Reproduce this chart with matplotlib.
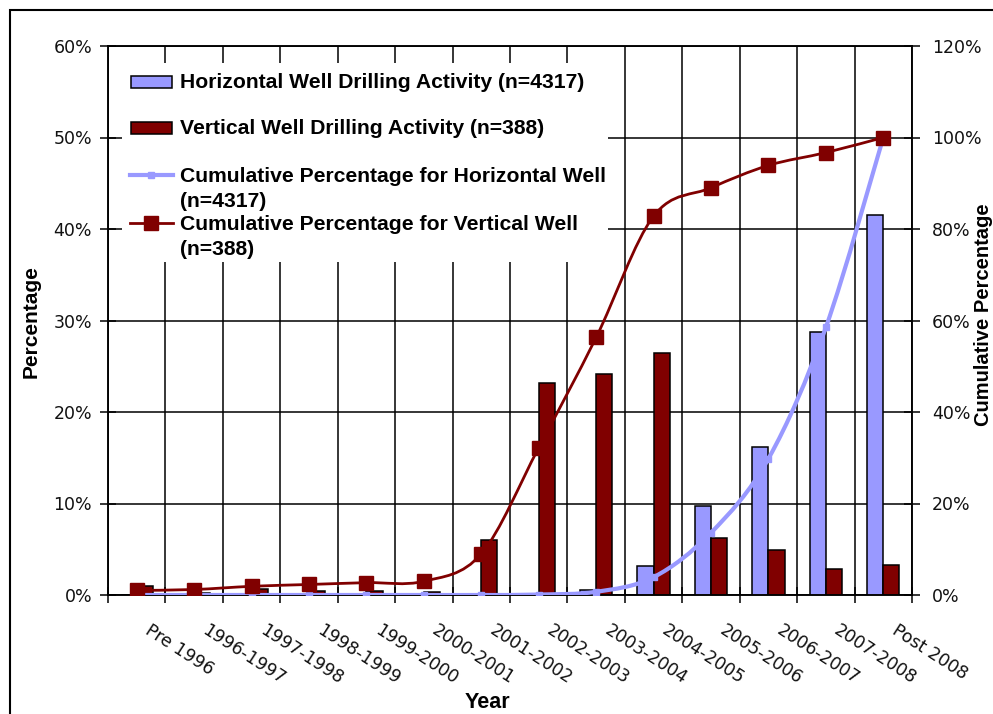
import numpy as np
import matplotlib
matplotlib.use('Agg')
import matplotlib.pyplot as plt
from matplotlib.path import Path
from matplotlib.patches import PathPatch, Rectangle
from matplotlib.lines import Line2D
from matplotlib.ticker import FuncFormatter

# drilling activity by period (percent of wells)
periods = ['Pre 1996', '1996-1997', '1997-1998', '1998-1999', '1999-2000',
           '2000-2001', '2001-2002', '2002-2003', '2003-2004', '2004-2005',
           '2005-2006', '2006-2007', '2007-2008', 'Post 2008']
horizontal_pct = [0.0, 0.0, 0.0, 0.0, 0.0, 0.0, 0.0, 0.1, 0.6, 3.2, 9.7, 16.2, 28.7, 41.5]
vertical_pct = [1.0, 0.2, 0.7, 0.4, 0.4, 0.3, 6.0, 23.2, 24.1, 26.5, 6.2, 4.9, 2.8, 3.3]
horizontal_cum = [0.0, 0.0, 0.0, 0.0, 0.0, 0.0, 0.0, 0.1, 0.7, 3.9, 13.6, 29.8, 58.5, 100.0]
vertical_cum = [1.0, 1.2, 1.9, 2.3, 2.7, 3.0, 9.0, 32.2, 56.3, 82.8, 89.0, 93.9, 96.7, 100.0]

labels = ['Horizontal Well Drilling Activity (n=4317)',
          'Vertical Well Drilling Activity (n=388)',
          'Cumulative Percentage for Horizontal Well\n(n=4317)',
          'Cumulative Percentage for Vertical Well\n(n=388)']

BLUE = '#9999FF'
RED = '#800000'


def smooth_path(xs, ys):
    # bezier curve through the points, like a smoothed excel line
    pts = np.column_stack([xs, ys]).astype(float)
    n = len(pts)
    verts = [pts[0]]
    codes = [Path.MOVETO]
    for i in range(n - 1):
        p0 = pts[max(i - 1, 0)]
        p1 = pts[i]
        p2 = pts[i + 1]
        p3 = pts[min(i + 2, n - 1)]
        verts += [p1 + (p2 - p0) / 6, p2 - (p3 - p1) / 6, p2]
        codes += [Path.CURVE4] * 3
    return Path(verts, codes)


plt.rcParams['font.family'] = 'DejaVu Sans'
fig = plt.figure(figsize=(9.93, 7.14), dpi=100)
ax = fig.add_axes([108 / 993, 1 - 595 / 714, 804 / 993, 549 / 714])
ax2 = ax.twinx()

x = np.arange(len(periods))
w = 0.28
ax.bar(x - w / 2, horizontal_pct, width=w, color=BLUE, edgecolor='black', linewidth=1.1, zorder=3)
ax.bar(x + w / 2, vertical_pct, width=w, color=RED, edgecolor='black', linewidth=1.1, zorder=3)

ax2.add_patch(PathPatch(smooth_path(x, horizontal_cum), fill=False, edgecolor=BLUE, lw=3, zorder=4))
ax2.plot(x, horizontal_cum, ls='none', marker='s', ms=5, color=BLUE, zorder=4)
ax2.add_patch(PathPatch(smooth_path(x, vertical_cum), fill=False, edgecolor=RED, lw=2, zorder=5))
ax2.plot(x, vertical_cum, ls='none', marker='s', ms=10, color=RED, zorder=5)

ax.set_xlim(-0.5, len(periods) - 0.5)
ax.set_ylim(0, 60)
ax2.set_ylim(0, 120)
ax.set_yticks(np.arange(0, 61, 10))
ax2.set_yticks(np.arange(0, 121, 20))
pct = FuncFormatter(lambda v, p: '%d%%' % v)
ax.yaxis.set_major_formatter(pct)
ax2.yaxis.set_major_formatter(pct)

# labels hang from just right of each category centre
ax.set_xticks(x + 0.26)
ax.set_xticks(np.arange(-0.5, len(periods), 1), minor=True)
ax.set_xticklabels(periods, rotation=-33, ha='left', va='top', rotation_mode='anchor')

ax.grid(which='minor', axis='x', color='black', lw=1.1, zorder=0)
ax.grid(which='major', axis='y', color='black', lw=1.1, zorder=0)
ax.set_axisbelow(True)

ax.tick_params(axis='x', which='major', length=0, pad=19, labelsize=12.5, labelcolor='#111111')
ax.tick_params(axis='x', which='minor', direction='inout', length=11, width=1.1)
ax.tick_params(axis='y', direction='inout', length=11, width=1.1, pad=6,
               labelsize=12.5, labelcolor='#111111')
ax2.tick_params(axis='y', direction='inout', length=11, width=1.1, pad=9,
                labelsize=12.5, labelcolor='#111111')
for a in (ax, ax2):
    for s in a.spines.values():
        s.set_linewidth(1.1)

# legend box drawn by hand
ax2.add_patch(Rectangle((0.0174, 0.6066), 0.605, 0.3624, transform=ax2.transAxes,
                        facecolor='white', edgecolor='none', zorder=6))
rows = [0.9344, 0.8506, 0.765, 0.6776]
bold = dict(family='Liberation Sans', fontweight='bold', fontsize=15.2, color='black')
for y, c in zip(rows[:2], [BLUE, RED]):
    ax2.add_patch(Rectangle((0.0286, y - 0.011), 0.0511, 0.022, transform=ax2.transAxes,
                            facecolor=c, edgecolor='black', lw=1.1, zorder=7))
ax2.add_line(Line2D([0.0274, 0.0808], [rows[2], rows[2]], transform=ax2.transAxes,
                    color=BLUE, lw=3, zorder=7))
ax2.add_line(Line2D([0.054], [rows[2]], transform=ax2.transAxes, ls='none',
                    marker='s', ms=5, color=BLUE, zorder=7))
ax2.add_line(Line2D([0.0274, 0.0808], [rows[3], rows[3]], transform=ax2.transAxes,
                    color=RED, lw=2, zorder=7))
ax2.add_line(Line2D([0.054], [rows[3]], transform=ax2.transAxes, ls='none',
                    marker='s', ms=10, color=RED, zorder=7))
for y, t in zip(rows, labels):
    if '\n' in t:
        ax2.text(0.0896, y + 0.015, t, transform=ax2.transAxes, va='top', ha='left',
                 linespacing=1.4, zorder=8, **bold)
    else:
        ax2.text(0.0896, y, t, transform=ax2.transAxes, va='center', ha='left', zorder=8, **bold)

fig.text(31 / 993, 1 - 322 / 714, 'Percentage', rotation=90, ha='center', va='center',
         family='Liberation Sans', fontweight='bold', fontsize=15)
fig.text(974 / 993, 1 - 315 / 714, 'Cumulative Percentage', rotation=90, ha='left', va='center',
         family='Liberation Sans', fontweight='bold', fontsize=14.5)
fig.text(487 / 993, 1 - 702 / 714, 'Year', ha='center', va='center',
         family='Liberation Sans', fontweight='bold', fontsize=15.5)

# outer frame of the chart area
fig.add_artist(Rectangle((10 / 993, -0.05), 1.2, 1.05 - 10 / 714, transform=fig.transFigure,
                         fill=False, edgecolor='black', lw=1.5))

fig.savefig('out.png', dpi=100)
